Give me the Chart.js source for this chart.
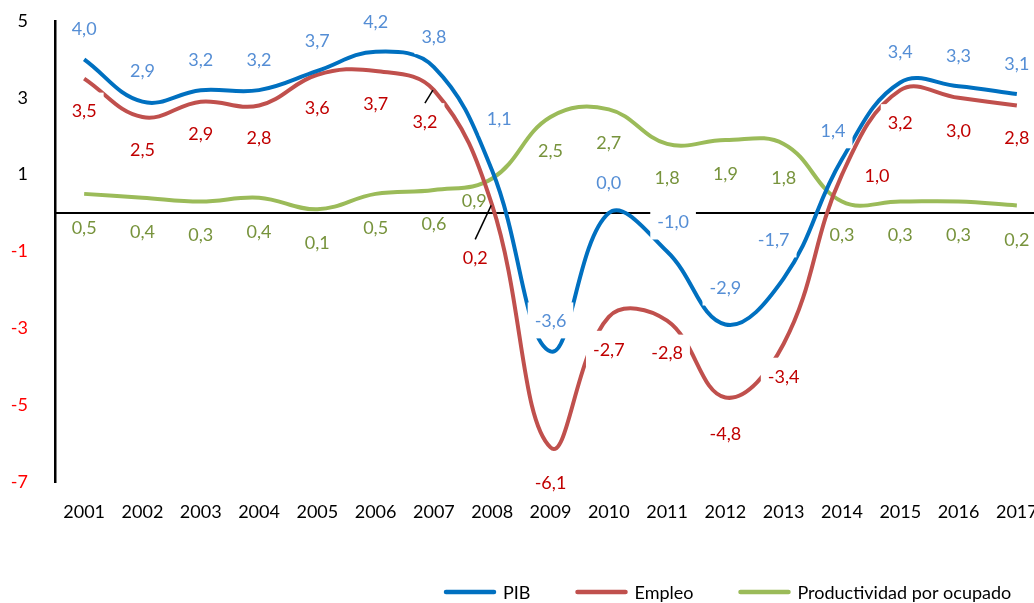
<!DOCTYPE html>
<html>
<head>
<meta charset="utf-8">
<script src="https://cdn.jsdelivr.net/npm/chart.js@4/dist/chart.umd.min.js"></script>
<style>
  html, body { margin: 0; padding: 0; background: #fff; overflow: hidden; }
  #wrap { position: absolute; left: 0; top: 0; width: 1046px; height: 603px; }
</style>
</head>
<body>
<div id="wrap"><canvas id="c" width="1046" height="603"></canvas></div>
<script>
// ---------- data ----------
const years = ['2001','2002','2003','2004','2005','2006','2007','2008','2009','2010','2011','2012','2013','2014','2015','2016','2017'];
const pib = [4.0, 2.9, 3.2, 3.2, 3.7, 4.2, 3.8, 1.1, -3.6, 0.0, -1.0, -2.9, -1.7, 1.4, 3.4, 3.3, 3.1];
const empleo = [3.5, 2.5, 2.9, 2.8, 3.6, 3.7, 3.2, 0.2, -6.1, -2.7, -2.8, -4.8, -3.4, 1.0, 3.2, 3.0, 2.8];
const productividad = [0.5, 0.4, 0.3, 0.4, 0.1, 0.5, 0.6, 0.9, 2.5, 2.7, 1.8, 1.9, 1.8, 0.3, 0.3, 0.3, 0.2];
const yTickValues = [5, 3, 1, -1, -3, -5, -7];
const seriesNames = ['PIB', 'Empleo', 'Productividad por ocupado'];

// ---------- label placement (styling, not data) ----------
const FONT = '18px Lato';
const labelStyle = [
  { color: '#558ED5', dy: -31, box: true,  special: { 7: [7, -53], 10: [6, -30], 11: [0, -37], 12: [-10, -39], 13: [-9, -29] }, leaders: {} },
  { color: '#C00000', dy: 32,  box: true,  special: { 6: [-9, 31], 7: [-17, 52], 8: [0, 35], 11: [0, 36], 13: [35, 1] }, leaders: { 6: true, 7: true } },
  { color: '#77933C', dy: 33,  box: false, special: { 7: [-18, 22], 16: [0, 34] }, leaders: {} }
];

const zeroLinePlugin = {
  id: 'zeroLine',
  beforeDatasetsDraw(chart) {
    const { ctx, chartArea } = chart;
    const y = chart.scales.y.getPixelForValue(0);
    ctx.save();
    ctx.strokeStyle = '#000';
    ctx.lineWidth = 2;
    ctx.beginPath();
    ctx.moveTo(chartArea.left, y);
    ctx.lineTo(chartArea.right + 20, y);
    ctx.stroke();
    ctx.restore();
  }
};

const valueLabelPlugin = {
  id: 'valueLabels',
  afterDatasetsDraw(chart) {
    const { ctx } = chart;
    ctx.save();
    ctx.font = FONT;
    ctx.textAlign = 'center';
    ctx.textBaseline = 'middle';
    chart.data.datasets.forEach((ds, i) => {
      const st = labelStyle[i];
      const meta = chart.getDatasetMeta(i);
      meta.data.forEach((pt, j) => {
        const v = ds.data[j];
        const txt = v.toFixed(1).replace('.', ',');
        const off = st.special[j] || [0, st.dy];
        const lx = pt.x + off[0];
        const ly = pt.y + off[1];
        const w = ctx.measureText(txt).width;
        if (st.box) {
          ctx.fillStyle = '#fff';
          ctx.fillRect(lx - w / 2 - 7, ly - 18, w + 14, 36);
        }
        if (st.leaders[j]) {
          ctx.strokeStyle = '#000';
          ctx.lineWidth = 1.5;
          ctx.beginPath();
          ctx.moveTo(lx, ly - 18);
          ctx.lineTo(pt.x - 1, pt.y);
          ctx.stroke();
        }
        ctx.fillStyle = st.color;
        ctx.fillText(txt, lx, ly + 1);
      });
    });
    ctx.restore();
  }
};

const legendPlugin = {
  id: 'lineLegend',
  afterDraw(chart) {
    const { ctx } = chart;
    ctx.save();
    ctx.font = FONT;
    ctx.textBaseline = 'middle';
    ctx.textAlign = 'left';
    let x = 444;
    const y = 592;
    chart.data.datasets.forEach(ds => {
      ctx.strokeStyle = ds.borderColor;
      ctx.lineWidth = 4.5;
      ctx.lineCap = 'round';
      ctx.beginPath();
      ctx.moveTo(x + 2, y);
      ctx.lineTo(x + 50, y);
      ctx.stroke();
      ctx.fillStyle = '#000';
      ctx.fillText(ds.label, x + 59, y + 1);
      x += 59 + ctx.measureText(ds.label).width + 45;
    });
    ctx.restore();
  }
};

const seriesColors = ['#0070C0', '#C0504D', '#9BBB59'];
const seriesData = [pib, empleo, productividad];

new Chart(document.getElementById('c'), {
  type: 'line',
  data: {
    labels: years,
    datasets: seriesData.map((d, i) => ({
      label: seriesNames[i],
      data: d,
      borderColor: seriesColors[i],
      backgroundColor: seriesColors[i],
      borderWidth: 4,
      pointRadius: 0,
      tension: 0.4,
      fill: false
    }))
  },
  options: {
    responsive: false,
    animation: false,
    layout: { padding: { top: 21, right: 0, bottom: 0, left: 0 } },
    plugins: { legend: { display: false }, tooltip: { enabled: false } },
    scales: {
      x: {
        offset: true,
        grid: { display: false, drawTicks: false },
        border: { display: false },
        ticks: { color: '#000', font: { family: 'Lato', size: 18 }, padding: 19, maxRotation: 0, autoSkip: false },
        afterFit(scale) { scale.height = 121; scale.paddingLeft = 0; scale.paddingRight = 0; }
      },
      y: {
        min: -7, max: 5,
        afterBuildTicks(scale) { scale.ticks = yTickValues.map(v => ({ value: v })); },
        grid: { display: false, drawTicks: false },
        border: { display: true, color: '#000', width: 2.5 },
        ticks: {
          font: { family: 'Lato', size: 18 },
          padding: 27,
          color: ctx => (ctx.tick.value < 0 ? '#FF0000' : '#000000')
        },
        afterFit(scale) { scale.width = 55; scale.paddingTop = 0; scale.paddingBottom = 0; }
      }
    }
  },
  plugins: [zeroLinePlugin, valueLabelPlugin, legendPlugin]
});
</script>
</body>
</html>
